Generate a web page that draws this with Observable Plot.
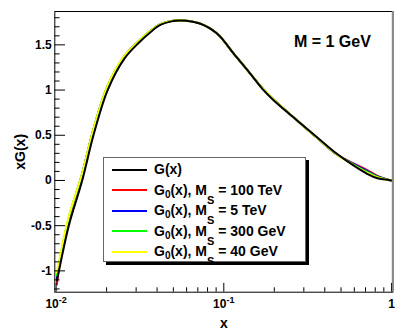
<!DOCTYPE html>
<html><head><meta charset="utf-8">
<script src="https://cdn.jsdelivr.net/npm/d3@7"></script>
<script src="https://cdn.jsdelivr.net/npm/@observablehq/plot@0.6"></script>
<style>
body{margin:0;background:#fff;}
#wrap{position:relative;width:403px;height:332px;font-family:"Liberation Sans",Arial,Helvetica,sans-serif;font-weight:bold;}
#legend{position:absolute;left:103px;top:157px;width:203px;height:105px;background:#fff;border:1px solid #666;box-shadow:3px 3px 0 #000;box-sizing:border-box;}
.sample{position:absolute;left:8px;width:35px;height:2px;}
.lab{position:absolute;left:50px;font-size:14px;line-height:14px;white-space:nowrap;color:#000;}
.sub0{position:relative;top:3px;font-size:10px;}
.subS{position:relative;top:9px;font-size:11px;}
</style>
</head><body>
<div id="wrap"></div>
<script>
// ---- data ----
const xPoints = [0.0101, 0.0105, 0.0119, 0.01431, 0.0167, 0.0203, 0.0256, 0.0310, 0.0365, 0.0418, 0.0486, 0.0551, 0.0725, 0.0914, 0.1148, 0.1441, 0.1730, 0.1987, 0.2737, 0.3595, 0.4722, 0.5928, 0.7156, 0.8255, 0.9637, 1.000];
const gFull   = [-1.11, -0.96, -0.50, 0.000, 0.500, 1.000, 1.350, 1.520, 1.640, 1.720, 1.760, 1.770, 1.733, 1.622, 1.401, 1.180, 0.996, 0.885, 0.664, 0.479, 0.295, 0.166, 0.074, 0.025, 0.006, 0.000];
const g100TeV = [-1.15, -0.93, -0.43, 0.074, 0.564, 1.044, 1.375, 1.537, 1.654, 1.730, 1.765, 1.773, 1.735, 1.622, 1.401, 1.180, 1.004, 0.892, 0.664, 0.472, 0.287, 0.190, 0.115, 0.050, 0.006, 0.000];
const g5TeV   = [-1.09, -0.90, -0.42, 0.076, 0.566, 1.046, 1.376, 1.538, 1.655, 1.730, 1.765, 1.773, 1.735, 1.622, 1.401, 1.180, 1.004, 0.892, 0.664, 0.472, 0.287, 0.183, 0.105, 0.044, 0.006, 0.000];
const g300GeV = [-1.05, -0.88, -0.41, 0.078, 0.568, 1.048, 1.378, 1.540, 1.656, 1.730, 1.765, 1.773, 1.735, 1.622, 1.401, 1.180, 1.004, 0.892, 0.664, 0.472, 0.287, 0.176, 0.095, 0.038, 0.006, 0.000];
const g40GeV  = [-1.02, -0.86, -0.40, 0.080, 0.570, 1.050, 1.380, 1.540, 1.656, 1.730, 1.765, 1.773, 1.735, 1.622, 1.401, 1.180, 1.004, 0.892, 0.664, 0.472, 0.287, 0.170, 0.085, 0.032, 0.006, 0.000];

const seriesKeys   = ["G(x)", "100 TeV", "5 TeV", "300 GeV", "40 GeV"];
const legendLabels = ["G(x)", "G_{0}(x), M_{S} = 100 TeV", "G_{0}(x), M_{S} = 5 TeV", "G_{0}(x), M_{S} = 300 GeV", "G_{0}(x), M_{S} = 40 GeV"];
const seriesColors = ["#000000", "#ff0000", "#0000ff", "#00ff00", "#ffff00"];
const seriesValues = [gFull, g100TeV, g5TeV, g300GeV, g40GeV];

const xMajor = [0.01, 0.1, 1];
const xTickLabels = ["10^{-2}", "10^{-1}", "1"];
const xMinor = [0.02, 0.03, 0.04, 0.05, 0.06, 0.07, 0.08, 0.09, 0.2, 0.3, 0.4, 0.5, 0.6, 0.7, 0.8, 0.9];
const yMajor = [-1, -0.5, 0, 0.5, 1, 1.5];
const yTickLabels = ["-1", "-0.5", "0", "0.5", "1", "1.5"];
const yMinor = [-1.2, -1.1, -0.9, -0.8, -0.7, -0.6, -0.4, -0.3, -0.2, -0.1, 0.1, 0.2, 0.3, 0.4, 0.6, 0.7, 0.8, 0.9, 1.1, 1.2, 1.3, 1.4, 1.6, 1.7, 1.8];
const xTitle = "x";
const yTitle = "xG(x)";
const annotation = "M = 1 GeV";

// ---- layout ----
const W = 403, H = 332;
const mL = 54.3, mR = W - 392.3, mT = 11, mB = H - 291.7;
const frameW = W - mL - mR, frameH = H - mT - mB;
const xDomain = [0.00982, 1.018];
const yDomain = [-1.236, 1.869];

const rows = [];
seriesKeys.forEach((k, s) => xPoints.forEach((x, i) => rows.push({series: k, x, y: seriesValues[s][i]})));

const drawOrder = [1, 2, 3, 4, 0];
const lineMarks = drawOrder.map(s => Plot.line(rows.filter(r => r.series === seriesKeys[s]), {
  x: "x", y: "y", stroke: seriesColors[s], strokeWidth: 2, curve: "catmull-rom"
}));

const plot = Plot.plot({
  width: W, height: H,
  marginLeft: mL, marginRight: mR, marginTop: mT, marginBottom: mB,
  style: {fontFamily: "'Liberation Sans', Arial, Helvetica, sans-serif", fontSize: "12px", fontWeight: "bold", background: "#fff", color: "#000"},
  x: {type: "log", domain: xDomain},
  y: {domain: yDomain},
  marks: [
    ...lineMarks,
    Plot.tickY(yMinor, {y: d => d, insetRight: frameW - 5.3, stroke: "#000"}),
    Plot.tickY(yMajor, {y: d => d, insetRight: frameW - 10.7, stroke: "#000"}),
    Plot.tickX(xMinor, {x: d => d, insetTop: frameH - 4.4, stroke: "#000"}),
    Plot.tickX(xMajor, {x: d => d, insetTop: frameH - 8.8, stroke: "#000"}),
    Plot.frame({stroke: "#000", strokeWidth: 1}),
    Plot.ruleX([xDomain[1]], {stroke: "#888", strokeWidth: 2}),
    Plot.axisX(xMajor, {tickSize: 0, tickPadding: 7, label: null, tickFormat: d => xTickLabels[xMajor.indexOf(d)], fontSize: 12}),
    Plot.axisY(yMajor, {tickSize: 0, tickPadding: 3, label: null, tickFormat: d => yTickLabels[yMajor.indexOf(d)], fontSize: 12}),
    Plot.text([xTitle], {text: d => d, frameAnchor: "bottom", lineAnchor: "bottom", dy: 35.4, fontSize: 14, fontWeight: "bold"}),
    Plot.text([yTitle], {text: d => d, frameAnchor: "left", rotate: -90, dx: -34, textAnchor: "middle", lineAnchor: "middle", fontSize: 14, fontWeight: "bold"}),
    Plot.text([annotation], {text: d => d, frameAnchor: "top-right", textAnchor: "end", lineAnchor: "bottom", dx: -22, dy: 35.6, fontSize: 16, fontWeight: "bold"})
  ]
});

// superscripts on x tick labels
plot.querySelectorAll('g[aria-label="x-axis tick label"] text').forEach(t => {
  const m = t.textContent.match(/^(.*)\^\{(.*)\}$/);
  if (m) {
    t.textContent = m[1];
    const ts = document.createElementNS("http://www.w3.org/2000/svg", "tspan");
    ts.setAttribute("dy", "-5");
    ts.setAttribute("font-size", "9");
    ts.textContent = m[2];
    t.appendChild(ts);
  }
});

const wrap = document.getElementById("wrap");
wrap.appendChild(plot);

// legend
const legend = document.createElement("div");
legend.id = "legend";
const rowTop = 1.5, rowH = 20.5;
legendLabels.forEach((lab, i) => {
  const c = rowTop + rowH * (i + 0.5);
  const sample = document.createElement("div");
  sample.className = "sample";
  sample.style.top = (c - 1) + "px";
  sample.style.background = seriesColors[i];
  legend.appendChild(sample);
  const t = document.createElement("div");
  t.className = "lab";
  t.style.top = (c - 7.5) + "px";
  t.innerHTML = lab
    .replace(/_\{0\}/g, '<span class="sub0">0</span>')
    .replace(/_\{S\}/g, '<span class="subS">S</span>');
  legend.appendChild(t);
});
wrap.appendChild(legend);
</script>
</body></html>
